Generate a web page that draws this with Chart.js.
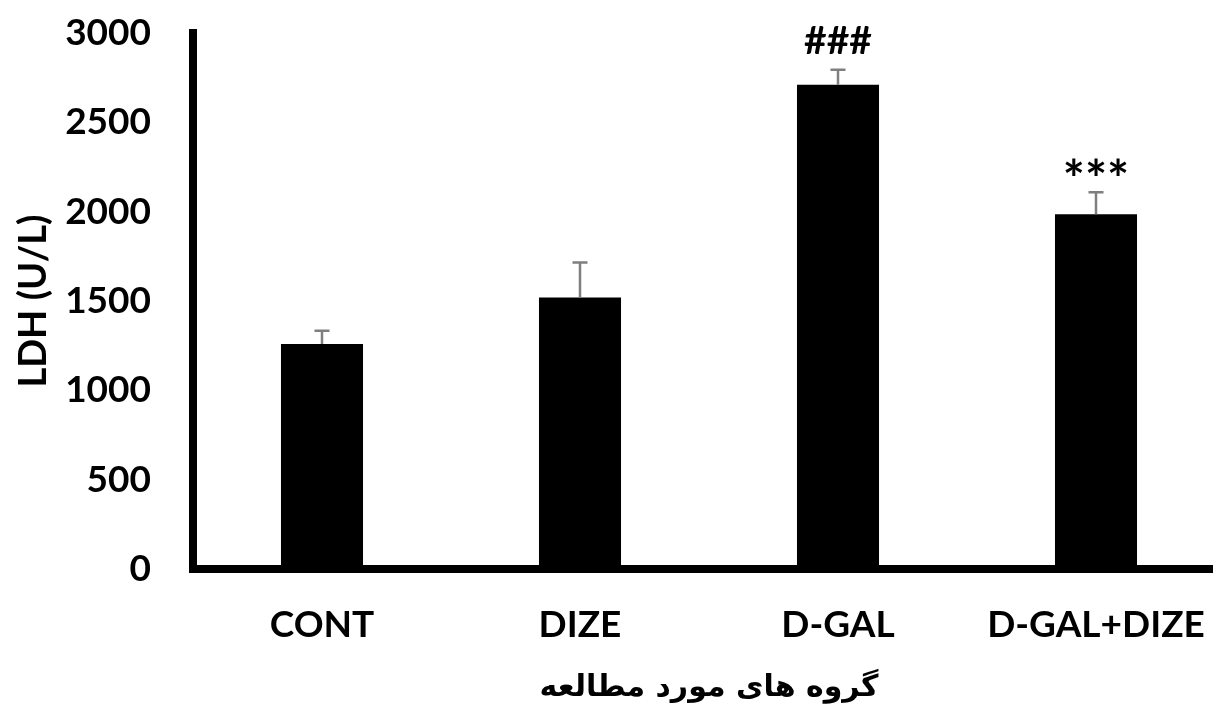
<!DOCTYPE html>
<html><head><meta charset="utf-8">
<script src="https://cdn.jsdelivr.net/npm/chart.js@4.4.1/dist/chart.umd.min.js"></script>
<style>
html,body{margin:0;padding:0;background:#fff;overflow:hidden;width:1213px;height:706px}
#wrap{position:relative;width:1232px;height:706px}
</style></head>
<body><div id="wrap"><canvas id="c"></canvas></div>
<script>
const categories = ['CONT', 'DIZE', 'D-GAL', 'D-GAL+DIZE'];
const meanValues = [1260, 1520, 2710, 1985];
const errorValues = [73, 196, 84, 124];
const significance = ['', '', '###', '***'];
const yMin = 0, yMax = 3000, yStep = 500;
const yTitle = 'LDH (U/L)';
const xTitle = 'گروه های مورد مطالعه';

const errorBarPlugin = {
  id: 'errbars',
  afterDatasetsDraw(chart) {
    const {ctx, scales: {y}} = chart;
    const meta = chart.getDatasetMeta(0);
    ctx.save();
    meta.data.forEach((bar, i) => {
      const cx = bar.x;
      const yTop = y.getPixelForValue(meanValues[i]);
      const yEnd = y.getPixelForValue(meanValues[i] + errorValues[i]);
      ctx.strokeStyle = '#7f7f7f';
      ctx.lineWidth = 2.5;
      ctx.beginPath();
      ctx.moveTo(cx, yTop); ctx.lineTo(cx, yEnd);
      ctx.moveTo(cx - 7.5, yEnd); ctx.lineTo(cx + 7.5, yEnd);
      ctx.stroke();
      const s = significance[i];
      if (s) {
        ctx.fillStyle = '#000';
        const isStar = s.indexOf('*') >= 0;
        ctx.font = isStar ? 'bold 52px Lato' : 'bold 39px Lato';
        ctx.textAlign = 'center';
        ctx.textBaseline = 'alphabetic';
        const m = ctx.measureText(s);
        const bottom = yEnd - 16;
        ctx.fillText(s, cx, bottom - m.actualBoundingBoxDescent);
      }
    });
    ctx.restore();
  }
};

function draw() {
  new Chart(document.getElementById('c'), {
    type: 'bar',
    data: {
      labels: categories,
      datasets: [{
        data: meanValues,
        backgroundColor: '#000',
        borderWidth: 0,
        barPercentage: 0.318,
        categoryPercentage: 1.0
      }]
    },
    options: {
      responsive: true,
      maintainAspectRatio: false,
      animation: false,
      devicePixelRatio: 1,
      layout: {padding: {top: 33, right: 7, bottom: 0, left: 0}},
      plugins: {legend: {display: false}, tooltip: {enabled: false}},
      scales: {
        x: {
          grid: {display: false, drawTicks: false},
          border: {display: true, color: '#000', width: 8},
          ticks: {color: '#000', font: {family: 'Lato', weight: 'bold', size: 37}, padding: 34, maxRotation: 0, autoSkip: false},
          title: {display: true, text: xTitle, color: '#000', font: {family: 'DejaVu Sans', weight: 'bold', size: 30}, padding: {top: 0, bottom: 0}},
          afterFit(s) { s.height = 137; s.paddingLeft = 0; s.paddingRight = 0; }
        },
        y: {
          min: yMin, max: yMax,
          grid: {display: false, drawTicks: false},
          border: {display: true, color: '#000', width: 8},
          ticks: {stepSize: yStep, color: '#000', font: {family: 'Lato', weight: 'bold', size: 37}, padding: 42,
                  callback: v => String(v)},
          title: {display: true, text: yTitle, color: '#000', font: {family: 'Lato', weight: 'bold', size: 38}, padding: {top: 11, bottom: 0}},
          afterFit(s) { s.width = 193; s.paddingTop = 0; s.paddingBottom = 0; }
        }
      }
    },
    plugins: [errorBarPlugin]
  });
}
Promise.all([
  document.fonts.load('bold 39px Lato'),
  document.fonts.load('bold 30px "DejaVu Sans"', xTitle)
]).then(draw, draw);
</script>
</body></html>
